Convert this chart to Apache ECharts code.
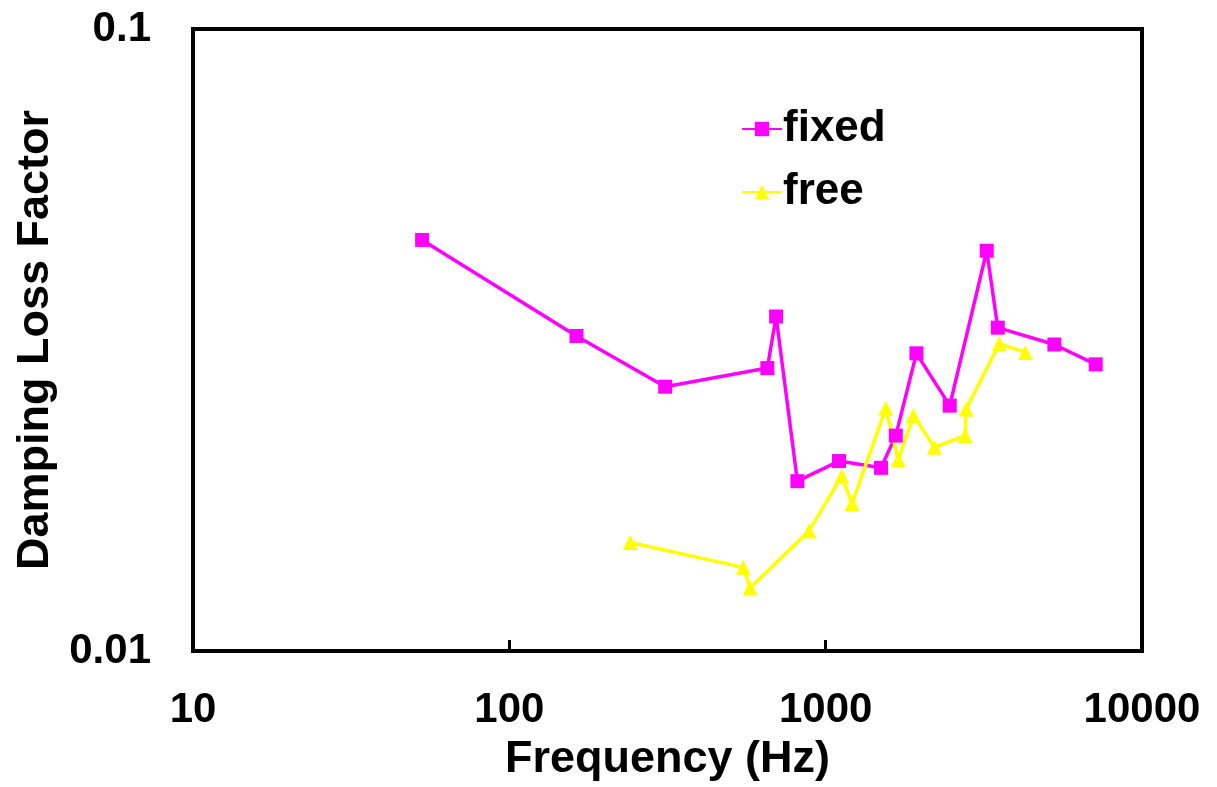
<!DOCTYPE html>
<html>
<head>
<meta charset="utf-8">
<script src="https://cdn.jsdelivr.net/npm/echarts@6/dist/echarts.min.js"></script>
<style>
html,body{margin:0;padding:0;background:#fff;}
#chart{width:1217px;height:787px;}
</style>
</head>
<body>
<div id="chart"></div>
<script>
const fixedFreq = [53, 163, 311, 654, 697, 814, 1102, 1496, 1666, 1936, 2467, 3230, 3500, 5284, 7140];
const fixedLoss = [0.0458, 0.0321, 0.0266, 0.0285, 0.0345, 0.01875, 0.0202, 0.0197, 0.0222, 0.0301, 0.0248, 0.0440, 0.0331, 0.0311, 0.0289];
const freeFreq = [241, 549, 577, 886, 1124, 1212, 1549, 1697, 1894, 2206, 2759, 2780, 3540, 4280];
const freeLoss = [0.01494, 0.01363, 0.01263, 0.0156, 0.0191, 0.01726, 0.02457, 0.0203, 0.02392, 0.02126, 0.0222, 0.0245, 0.0312, 0.0302];
const xTickLabels = ['10', '100', '1000', '10000'];
const yTickLabels = ['0.01', '0.1'];

const FONT = "'Liberation Sans', Arial, sans-serif";
const zip = (a, b) => a.map((v, i) => [v, b[i]]);
const fmt = (labels) => (v) => {
  const s = String(+Number(v).toPrecision(3));
  return labels.includes(s) ? s : '';
};

const chart = echarts.init(document.getElementById('chart'));
chart.setOption({
  backgroundColor: '#fff',
  animation: false,
  grid: {
    left: 193, right: 75, top: 29, bottom: 133,
    show: true, borderColor: '#000', borderWidth: 4, backgroundColor: 'transparent'
  },
  legend: {
    orient: 'vertical',
    left: 736, top: 102,
    itemWidth: 40, itemHeight: 18, itemGap: 19,
    textStyle: { fontFamily: FONT, fontWeight: 'bold', fontSize: 44, color: '#000', padding: [0,0,0,-4] },
    data: ['fixed', 'free']
  },
  xAxis: {
    type: 'log', logBase: 10, min: 10, max: 10000,
    name: 'Frequency (Hz)', nameLocation: 'middle', nameGap: 86,
    nameTextStyle: { fontFamily: FONT, fontWeight: 'bold', fontSize: 45, color: '#000' },
    axisLine: { show: true, lineStyle: { color: '#000', width: 4 } },
    axisTick: { show: true, inside: true, length: 11, lineStyle: { color: '#000', width: 3 } },
    axisLabel: { fontFamily: FONT, fontWeight: 'bold', fontSize: 42, color: '#000', margin: 38, formatter: fmt(xTickLabels) },
    splitLine: { show: false },
    minorTick: { show: false }
  },
  yAxis: {
    type: 'log', logBase: 10, min: 0.01, max: 0.1,
    name: 'Damping Loss Factor', nameLocation: 'middle', nameGap: 131, nameRotate: 90,
    nameTextStyle: { fontFamily: FONT, fontWeight: 'bold', fontSize: 45, color: '#000' },
    axisLine: { show: true, lineStyle: { color: '#000', width: 4 } },
    axisTick: { show: false },
    axisLabel: { fontFamily: FONT, fontWeight: 'bold', fontSize: 42, color: '#000', margin: 42, formatter: fmt(yTickLabels) },
    splitLine: { show: false }
  },
  series: [
    {
      name: 'fixed', type: 'line', data: zip(fixedFreq, fixedLoss),
      symbol: 'rect', symbolSize: 14,
      itemStyle: { color: '#FF00FF' },
      lineStyle: { color: '#FF00FF', width: 3.5 }
    },
    {
      name: 'free', type: 'line', data: zip(freeFreq, freeLoss),
      symbol: 'triangle', symbolSize: 15,
      itemStyle: { color: '#FFFF00' },
      lineStyle: { color: '#FFFF00', width: 3.5 }
    }
  ]
});
</script>
</body>
</html>
